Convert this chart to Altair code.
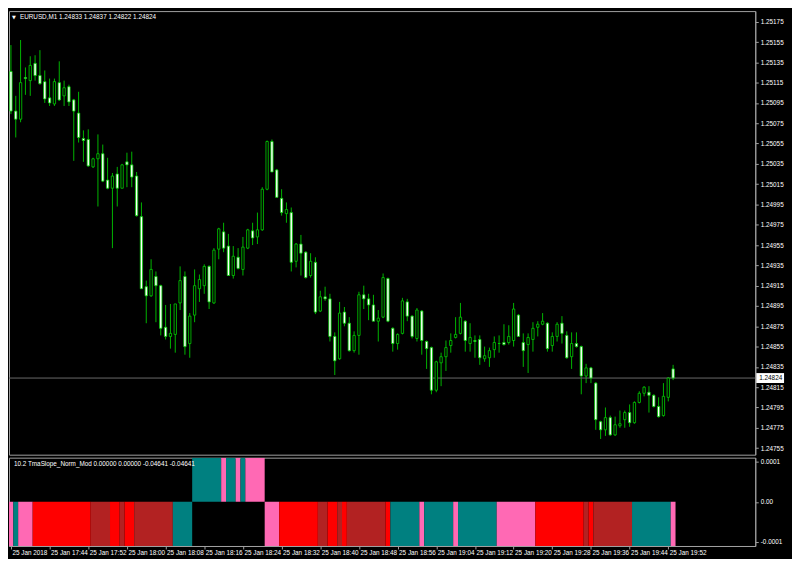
import json
import altair as alt
import pandas as pd

# ---------------- data ----------------
symbol = "EURUSD,M1"
indicator_name = "10.2 TmaSlope_Norm_Mod"
indicator_readout = ["0.00000", "0.00000", "-0.04641", "-0.04641"]

time_labels = ["25 Jan 2018", "25 Jan 17:44", "25 Jan 17:52", "25 Jan 18:00", "25 Jan 18:08",
               "25 Jan 18:16", "25 Jan 18:24", "25 Jan 18:32", "25 Jan 18:40", "25 Jan 18:48",
               "25 Jan 18:56", "25 Jan 19:04", "25 Jan 19:12", "25 Jan 19:20", "25 Jan 19:28",
               "25 Jan 19:36", "25 Jan 19:44", "25 Jan 19:52"]
price_ticks = [1.24755, 1.24775, 1.24795, 1.24815, 1.24835, 1.24855, 1.24875, 1.24895,
               1.24915, 1.24935, 1.24955, 1.24975, 1.24995, 1.25015, 1.25035, 1.25055,
               1.25075, 1.25095, 1.25115, 1.25135, 1.25155, 1.25175]
ind_ticks = [-0.0001, 0.0, 0.0001]
ind_tick_labels = ["-0.0001", "0.00", "0.0001"]

opens = [1.25126, 1.25087, 1.25079, 1.25120, 1.25117, 1.25134, 1.25122, 1.25116, 1.25100, 1.25094,
         1.25115, 1.25102, 1.25111, 1.25098, 1.25085, 1.25060, 1.25059, 1.25032, 1.25040, 1.25045,
         1.25019, 1.25011, 1.25025, 1.25011, 1.25037, 1.25034, 1.25023, 1.24983, 1.24914, 1.24905,
         1.24924, 1.24915, 1.24874, 1.24865, 1.24867, 1.24898, 1.24924, 1.24858, 1.24886, 1.24912,
         1.24915, 1.24934, 1.24898, 1.24951, 1.24968, 1.24954, 1.24925, 1.24943, 1.24931, 1.24952,
         1.24969, 1.24963, 1.24970, 1.25010, 1.25057, 1.25029, 1.25001, 1.24986, 1.24987, 1.24939,
         1.24956, 1.24948, 1.24925, 1.24938, 1.24890, 1.24904, 1.24902, 1.24865, 1.24843, 1.24889,
         1.24878, 1.24851, 1.24866, 1.24906, 1.24902, 1.24896, 1.24880, 1.24884, 1.24922, 1.24873,
         1.24858, 1.24868, 1.24899, 1.24885, 1.24863, 1.24890, 1.24860, 1.24854, 1.24812, 1.24839,
         1.24845, 1.24856, 1.24864, 1.24868, 1.24880, 1.24858, 1.24861, 1.24862, 1.24843, 1.24844,
         1.24852, 1.24858, 1.24859, 1.24859, 1.24861, 1.24886, 1.24859, 1.24857, 1.24862, 1.24874,
         1.24877, 1.24878, 1.24856, 1.24865, 1.24878, 1.24866, 1.24845, 1.24858, 1.24855, 1.24826,
         1.24834, 1.24819, 1.24781, 1.24773, 1.24785, 1.24768, 1.24777, 1.24783, 1.24790, 1.24780,
         1.24800, 1.24809, 1.24810, 1.24807, 1.24796, 1.24787, 1.24805, 1.24833]
highs = [1.25152, 1.25102, 1.25157, 1.25130, 1.25141, 1.25142, 1.25147, 1.25127, 1.25119, 1.25119,
         1.25136, 1.25117, 1.25113, 1.25099, 1.25106, 1.25068, 1.25069, 1.25041, 1.25064, 1.25054,
         1.25041, 1.25026, 1.25032, 1.25035, 1.25046, 1.25047, 1.25027, 1.24997, 1.24920, 1.24941,
         1.24929, 1.24916, 1.24896, 1.24897, 1.24897, 1.24934, 1.24929, 1.24888, 1.24931, 1.24926,
         1.24936, 1.24935, 1.24952, 1.24972, 1.24977, 1.24966, 1.24954, 1.24952, 1.24963, 1.24971,
         1.24977, 1.24987, 1.25012, 1.25058, 1.25059, 1.25030, 1.25010, 1.24997, 1.24992, 1.24957,
         1.24965, 1.24949, 1.24947, 1.24943, 1.24910, 1.24914, 1.24907, 1.24869, 1.24899, 1.24894,
         1.24884, 1.24870, 1.24909, 1.24915, 1.24907, 1.24906, 1.24891, 1.24927, 1.24923, 1.24874,
         1.24868, 1.24903, 1.24902, 1.24886, 1.24893, 1.24891, 1.24861, 1.24855, 1.24841, 1.24849,
         1.24861, 1.24868, 1.24884, 1.24898, 1.24881, 1.24878, 1.24866, 1.24866, 1.24855, 1.24854,
         1.24865, 1.24866, 1.24877, 1.24876, 1.24898, 1.24887, 1.24868, 1.24868, 1.24879, 1.24880,
         1.24888, 1.24879, 1.24869, 1.24879, 1.24885, 1.24870, 1.24869, 1.24869, 1.24856, 1.24838,
         1.24835, 1.24820, 1.24782, 1.24795, 1.24787, 1.24786, 1.24792, 1.24792, 1.24798, 1.24801,
         1.24811, 1.24816, 1.24816, 1.24808, 1.24805, 1.24819, 1.24825, 1.24837]
lows = [1.25084, 1.25061, 1.25076, 1.25103, 1.25102, 1.25117, 1.25113, 1.25095, 1.25092, 1.25092,
        1.25097, 1.25092, 1.25092, 1.25038, 1.25056, 1.25037, 1.25032, 1.25031, 1.24993, 1.25017,
        1.25010, 1.24952, 1.24993, 1.25011, 1.25012, 1.25012, 1.24983, 1.24912, 1.24878, 1.24904,
        1.24879, 1.24866, 1.24862, 1.24853, 1.24849, 1.24891, 1.24847, 1.24844, 1.24879, 1.24899,
        1.24907, 1.24892, 1.24897, 1.24941, 1.24948, 1.24925, 1.24922, 1.24931, 1.24925, 1.24951,
        1.24955, 1.24956, 1.24969, 1.25009, 1.25027, 1.25002, 1.24984, 1.24977, 1.24929, 1.24933,
        1.24925, 1.24922, 1.24923, 1.24887, 1.24889, 1.24900, 1.24860, 1.24827, 1.24842, 1.24875,
        1.24850, 1.24849, 1.24847, 1.24892, 1.24881, 1.24880, 1.24860, 1.24883, 1.24879, 1.24850,
        1.24852, 1.24867, 1.24880, 1.24863, 1.24860, 1.24847, 1.24833, 1.24808, 1.24810, 1.24816,
        1.24831, 1.24849, 1.24863, 1.24867, 1.24850, 1.24850, 1.24844, 1.24837, 1.24840, 1.24835,
        1.24844, 1.24849, 1.24856, 1.24857, 1.24855, 1.24865, 1.24835, 1.24829, 1.24850, 1.24865,
        1.24876, 1.24850, 1.24850, 1.24860, 1.24858, 1.24843, 1.24833, 1.24854, 1.24808, 1.24819,
        1.24819, 1.24773, 1.24764, 1.24767, 1.24767, 1.24767, 1.24775, 1.24775, 1.24776, 1.24779,
        1.24799, 1.24806, 1.24790, 1.24795, 1.24785, 1.24786, 1.24801, 1.24822]
closes = [1.25087, 1.25079, 1.25115, 1.25119, 1.25132, 1.25122, 1.25114, 1.25099, 1.25095, 1.25116,
          1.25098, 1.25110, 1.25096, 1.25087, 1.25061, 1.25058, 1.25033, 1.25040, 1.25045, 1.25018,
          1.25011, 1.25023, 1.25011, 1.25034, 1.25034, 1.25022, 1.24984, 1.24912, 1.24905, 1.24931,
          1.24915, 1.24873, 1.24865, 1.24868, 1.24897, 1.24920, 1.24855, 1.24885, 1.24915, 1.24921,
          1.24934, 1.24899, 1.24950, 1.24971, 1.24952, 1.24925, 1.24944, 1.24932, 1.24953, 1.24970,
          1.24962, 1.24970, 1.25010, 1.25057, 1.25027, 1.25002, 1.24987, 1.24990, 1.24938, 1.24956,
          1.24947, 1.24923, 1.24939, 1.24889, 1.24904, 1.24902, 1.24865, 1.24841, 1.24888, 1.24878,
          1.24851, 1.24866, 1.24906, 1.24902, 1.24896, 1.24880, 1.24883, 1.24923, 1.24880, 1.24858,
          1.24867, 1.24900, 1.24885, 1.24865, 1.24891, 1.24861, 1.24853, 1.24812, 1.24840, 1.24845,
          1.24854, 1.24861, 1.24867, 1.24884, 1.24861, 1.24864, 1.24860, 1.24844, 1.24846, 1.24851,
          1.24859, 1.24858, 1.24857, 1.24865, 1.24892, 1.24865, 1.24851, 1.24864, 1.24873, 1.24877,
          1.24880, 1.24853, 1.24865, 1.24877, 1.24868, 1.24844, 1.24858, 1.24855, 1.24826, 1.24834,
          1.24824, 1.24783, 1.24773, 1.24785, 1.24768, 1.24778, 1.24779, 1.24790, 1.24780, 1.24800,
          1.24809, 1.24815, 1.24807, 1.24796, 1.24786, 1.24806, 1.24824, 1.24824]

# indicator histogram, read as runs of equal colour (colour, number of bars, side)
ind_colors = ["hotpink", "teal", "hotpink", "red", "firebrick", "red", "firebrick", "red", "firebrick", "teal",
              "teal", "hotpink", "teal", "hotpink", "teal", "hotpink",
              "hotpink", "red", "firebrick", "red", "firebrick", "red", "firebrick", "red",
              "teal", "hotpink", "teal", "hotpink", "teal", "hotpink", "red", "firebrick", "red",
              "firebrick", "teal", "hotpink"]
ind_counts = [1, 1, 3, 12, 4, 2, 1, 2, 8, 4,
              6, 1, 2, 1, 1, 4,
              3, 8, 2, 2, 1, 1, 8, 1,
              6, 1, 6, 1, 8, 8, 10, 1, 1,
              8, 8, 1]
ind_side = [-1, -1, -1, -1, -1, -1, -1, -1, -1, -1,
            1, 1, 1, 1, 1, 1,
            -1, -1, -1, -1, -1, -1, -1, -1,
            -1, -1, -1, -1, -1, -1, -1, -1, -1,
            -1, -1, -1]

# ---------------- tables ----------------
n = len(opens)
candles = pd.DataFrame({"k": list(range(n)), "open": opens, "high": highs, "low": lows, "close": closes})
candles["fill"] = ["white" if c < o else "black" for o, c in zip(opens, closes)]

starts = []
s = 0
for c in ind_counts:
    starts.append(s)
    s += c
ind = pd.DataFrame({"start": starts, "count": ind_counts, "color": ind_colors, "side": ind_side})
ind["x0"] = ind["start"] - 0.5
ind["x1"] = ind["start"] + ind["count"] - 0.5
ind["v0"] = 0.0
ind["v1"] = ind["side"] * 0.00011

last = pd.DataFrame({"p": [closes[-1]], "label": [f"{closes[-1]:.5f}"]})
title_txt = f"{symbol}  " + " ".join(f"{v:.5f}" for v in [opens[-1], highs[-1], lows[-1], closes[-1]])
ind_txt = indicator_name + " " + " ".join(indicator_readout)

# ---------------- layout ----------------
W = 752
H1 = 447
H2 = 89
GRID = "#a0a0a0"
WICK = "#00b400"
FONT = "Liberation Sans"
FS = 6.4

x_scale = alt.Scale(domain=[-0.4, 154], nice=False, zero=False)
y_main = alt.Scale(domain=[1.247485, 1.251855], nice=False, zero=False)
y_ind = alt.Scale(domain=[-0.00011, 0.00011], nice=False, zero=False)

price_axis = alt.Axis(orient="right", values=price_ticks, format=".5f", title=None, grid=False,
                      tickSize=3, labelPadding=2, labelColor="white", labelFont=FONT, labelFontSize=FS,
                      labelOverlap=False, labelBound=False, labelFlush=False,
                      tickColor=GRID, domainColor=GRID)

def Yp(field):
    return alt.Y(field, scale=y_main, axis=price_axis)

base = alt.Chart(candles)
wicks = base.mark_rule(color=WICK, strokeWidth=1).encode(
    x=alt.X("k:Q", scale=x_scale, axis=None),
    y=Yp("low:Q"),
    y2="high:Q",
)
bodies = base.transform_calculate(xa="datum.k - 0.24", xb="datum.k + 0.24").mark_rect(
    stroke="#00d000", strokeWidth=0.8
).encode(
    x=alt.X("xa:Q", scale=x_scale, axis=None),
    x2="xb:Q",
    y=Yp("open:Q"),
    y2="close:Q",
    fill=alt.Fill("fill:N", scale=None),
)
price_line = alt.Chart(last).mark_rule(color="#6a6a6a", strokeWidth=1).encode(y=Yp("p:Q"))
price_tag = alt.Chart(last).mark_rule(color="white", strokeWidth=10, strokeCap="butt").encode(
    x=alt.value(W + 1), x2=alt.value(W + 29), y=Yp("p:Q")
)
price_tag_text = alt.Chart(last).mark_text(
    align="left", baseline="middle", color="black", font=FONT, fontSize=FS
).encode(x=alt.value(W + 4), y=Yp("p:Q"), text="label:N")

title_df = pd.DataFrame({"t": [title_txt]})
tri = alt.Chart(title_df).mark_text(
    text="▼", font="DejaVu Sans", fontSize=5, color="white", align="left", baseline="middle"
).encode(x=alt.value(3), y=alt.value(6))
title = alt.Chart(title_df).mark_text(
    align="left", baseline="middle", color="white", font=FONT, fontSize=FS
).encode(x=alt.value(11), y=alt.value(6), text="t:N")

main = alt.layer(wicks, price_line, bodies, price_tag, price_tag_text, tri, title).properties(
    width=W, height=H1
)

time_axis = alt.Axis(values=[8 * i for i in range(len(time_labels))],
                     labelExpr=json.dumps(time_labels) + "[round(datum.value / 8)]",
                     title=None, grid=False, tickSize=3, labelPadding=1, labelAlign="left",
                     labelOffset=1, labelBaseline="top", labelOverlap=False, labelFlush=False,
                     labelBound=False, labelColor="white", labelFont=FONT, labelFontSize=FS,
                     tickColor=GRID, domainColor=GRID)
ind_axis = alt.Axis(orient="right", values=ind_ticks,
                    labelExpr=json.dumps(ind_tick_labels) + "[round(datum.value / 0.0001) + 1]",
                    title=None, grid=False, tickSize=3, labelPadding=2, labelColor="white",
                    labelOverlap=False, labelBound=False, labelFlush=False,
                    labelFont=FONT, labelFontSize=FS, tickColor=GRID, domainColor=GRID)

bars = alt.Chart(ind).mark_rect(clip=True).encode(
    x=alt.X("x0:Q", scale=x_scale, axis=time_axis),
    x2="x1:Q",
    y=alt.Y("v0:Q", scale=y_ind, axis=ind_axis),
    y2="v1:Q",
    fill=alt.Fill("color:N", scale=None),
)
ind_title = alt.Chart(pd.DataFrame({"t": [ind_txt]})).mark_text(
    align="left", baseline="middle", color="white", font=FONT, fontSize=FS
).encode(x=alt.value(5), y=alt.value(6), text="t:N")

lower = alt.layer(bars, ind_title).properties(width=W, height=H2)

chart = alt.vconcat(main, lower, spacing=1).properties(
    background="black", padding={"left": 0, "top": 0, "right": 2, "bottom": 0}
).configure_view(stroke=GRID, strokeWidth=1).configure_axis(labelOverlap=False)

chart.save("out.html", embed_options={"renderer": "svg", "actions": False})
